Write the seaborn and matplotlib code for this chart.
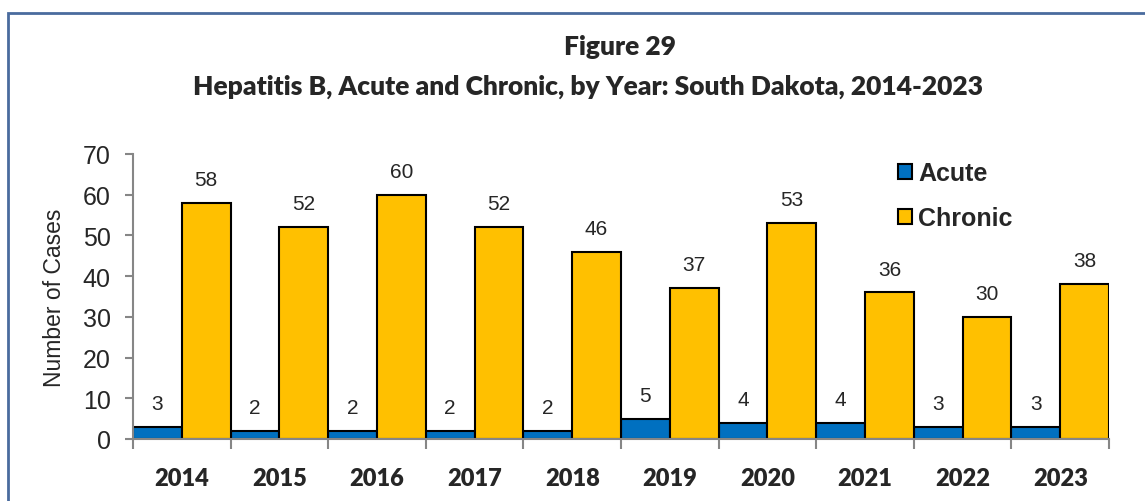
import pandas as pd
import numpy as np
import matplotlib.pyplot as plt
import matplotlib.patches as mpatches
from matplotlib.ticker import FixedLocator
import seaborn as sns

# Data
years = ["2014", "2015", "2016", "2017", "2018", "2019", "2020", "2021", "2022", "2023"]
acute = [3, 2, 2, 2, 2, 5, 4, 4, 3, 3]
chronic = [58, 52, 60, 52, 46, 37, 53, 36, 30, 38]
series = ["Acute", "Chronic"]
colors = ["#0070C0", "#FFC000"]

df = pd.DataFrame({"Year": years * 2,
                   "Type": ["Acute"] * len(years) + ["Chronic"] * len(years),
                   "Cases": acute + chronic})

sns.set_style("white")
plt.rcParams['font.family'] = ['Liberation Sans', 'DejaVu Sans']

fig = plt.figure(figsize=(11.45, 5.02), dpi=100)
ax = fig.add_axes([133 / 1145, 1 - 440 / 502, (1109 - 133) / 1145, (440 - 155) / 502])

sns.barplot(data=df, x="Year", y="Cases", hue="Type", hue_order=series,
            palette=colors, width=1.0, gap=0, edgecolor="black", linewidth=1.5,
            saturation=1, ax=ax, legend=True)

# value labels
for cont in ax.containers:
    ax.bar_label(cont, padding=10, fontsize=15, family=['Liberation Sans'])

ax.set_xlim(-0.5, len(years) - 0.5)
ax.set_ylim(0, 70)
ax.set_yticks(range(0, 71, 10))
ax.tick_params(axis="y", labelsize=18, length=6, width=1.5, color="#868686",
               direction="out", pad=10, left=True)
ax.tick_params(axis="x", which="major", length=0, pad=20)
ax.xaxis.set_minor_locator(FixedLocator(np.arange(-0.5, len(years), 1.0)))
ax.tick_params(axis="x", which="minor", length=7, width=1.5, color="#868686",
               direction="out", bottom=True)
for lab in ax.get_xticklabels():
    lab.set_family(['Lato', 'DejaVu Sans'])
    lab.set_fontweight("heavy")
    lab.set_fontsize(17)

ax.set_xlabel("")
ax.set_ylabel("Number of Cases", fontsize=16.5, labelpad=12)
for side in ["top", "right"]:
    ax.spines[side].set_visible(False)
for side in ["left", "bottom"]:
    ax.spines[side].set_color("#868686")
    ax.spines[side].set_linewidth(1.5)

leg = ax.legend(loc="upper left", bbox_to_anchor=(888 / 1145, 1 - 152 / 502),
                bbox_transform=fig.transFigure, frameon=False,
                prop={"family": "Liberation Sans", "weight": "bold", "size": 18},
                handlelength=0.55, handleheight=0.55, handletextpad=0.25,
                labelspacing=0.85, borderaxespad=0)
for h in leg.legend_handles:
    h.set_edgecolor("black")
    h.set_linewidth(1.5)

# titles
fig.text(620 / 1145, 1 - 47 / 502, "Figure 29", ha="center", va="center",
         fontsize=19, fontweight="heavy", family=['Lato', 'DejaVu Sans'])
fig.text(588 / 1145, 1 - 87 / 502,
         "Hepatitis B, Acute and Chronic, by Year: South Dakota, 2014-2023",
         ha="center", va="center", fontsize=19, fontweight="heavy",
         family=['Lato', 'DejaVu Sans'])

# outer border
fig.patches.append(mpatches.Rectangle((8 / 1145, -0.05), 1.2, 1 - 14 / 502 + 0.05,
                                      transform=fig.transFigure, fill=False,
                                      edgecolor="#4A6B9E", linewidth=2))

plt.savefig("out.png", dpi=100)
